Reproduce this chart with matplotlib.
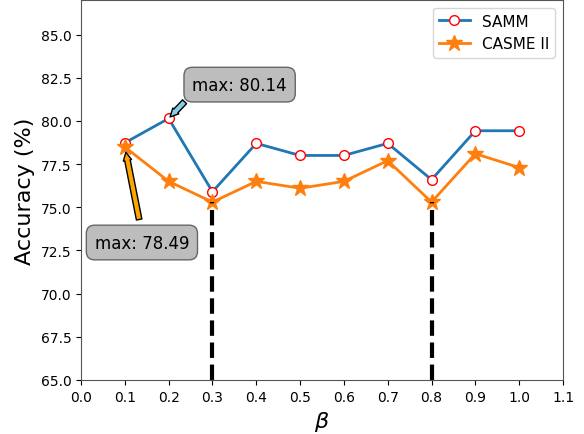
import numpy as np
import matplotlib
matplotlib.use("Agg")
import matplotlib.pyplot as plt

beta = [0.1, 0.2, 0.3, 0.4, 0.5, 0.6, 0.7, 0.8, 0.9, 1.0]
samm = [78.73, 80.14, 75.9, 78.7, 78.0, 78.0, 78.7, 76.6, 79.43, 79.43]
casme = [78.49, 76.5, 75.3, 76.5, 76.1, 76.5, 77.7, 75.3, 78.1, 77.3]
xticks = [0.0, 0.1, 0.2, 0.3, 0.4, 0.5, 0.6, 0.7, 0.8, 0.9, 1.0, 1.1]
yticks = [65.0, 67.5, 70.0, 72.5, 75.0, 77.5, 80.0, 82.5, 85.0]
mark_beta = [0.3, 0.8]

fig = plt.figure(figsize=(5.84, 4.35), dpi=100)
ax = fig.add_axes([81 / 584, 54 / 435, 482 / 584, 380 / 435])

ax.plot(beta, samm, color='#1f77b4', lw=2, marker='o', markersize=7,
        markerfacecolor='white', markeredgecolor='red', label='SAMM')
ax.plot(beta, casme, color='#ff7f0e', lw=2, marker='*', markersize=12,
        label='CASME II')

# dashed markers at the two minima
low = [casme[beta.index(b)] for b in mark_beta]
ax.vlines(mark_beta, 65, low, colors='black', linestyles='--', lw=3)

bbox = dict(boxstyle='round,pad=0.5', fc='#bdbdbd', ec='#666666')
ax.annotate('max: %.2f' % max(samm), xy=(0.2, max(samm)), xytext=(0.362, 82.1),
            ha='center', va='center', fontsize=12, bbox=bbox,
            arrowprops=dict(facecolor='skyblue', shrink=0.06, width=4,
                            headwidth=6, headlength=6))
ax.annotate('max: %.2f' % casme[0], xy=(0.1, casme[0]), xytext=(0.139, 72.96),
            ha='center', va='center', fontsize=12, bbox=bbox,
            arrowprops=dict(facecolor='orange', shrink=0.06, width=4,
                            headwidth=6, headlength=6))

ax.set_xlim(0, 1.1)
ax.set_ylim(65, 87)
ax.set_xticks(xticks)
ax.set_yticks(yticks)
ax.tick_params(labelsize=10)
ax.set_xlabel(r'$\beta$', fontsize=16)
ax.set_ylabel('Accuracy (%)', fontsize=16)
for s in ax.spines.values():
    s.set_color('#555555')
ax.legend(loc='upper right', fontsize=11)

fig.savefig('out.png', dpi=100)
